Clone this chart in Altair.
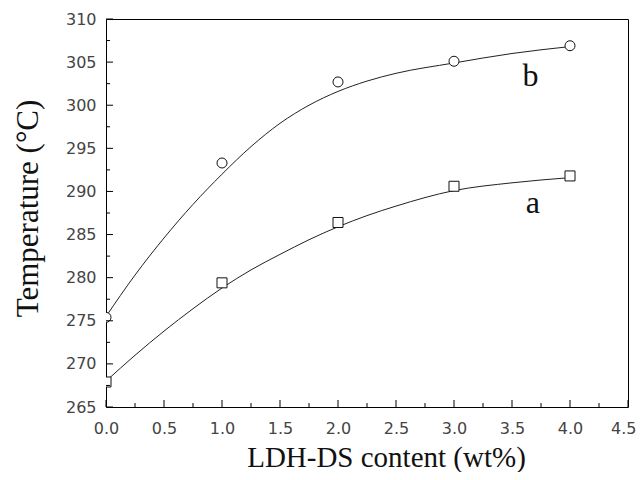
import altair as alt
import pandas as pd

# measured points
content = [0, 1, 2, 3, 4]
temp_a = [267.9, 279.4, 286.4, 290.6, 291.8]
temp_b = [275.4, 293.3, 302.7, 305.1, 306.9]

# fitted curves
curve_x = [0, 0.25, 0.5, 0.75, 1.0, 1.25, 1.5, 1.75, 2.0, 2.25, 2.5, 3.0, 3.5, 4.0]
curve_a = [268.0, 271.0, 273.8, 276.4, 278.8, 280.9, 282.7, 284.4, 285.9, 287.2, 288.3, 290.1, 291.0, 291.6]
curve_b = [275.5, 280.3, 284.6, 288.5, 292.0, 295.2, 297.9, 300.0, 301.6, 302.8, 303.7, 304.9, 306.0, 306.8]

# curve labels
label_text = ["b", "a"]
label_x = [3.66, 3.68]
label_y = [302.2, 287.5]

# axis ticks
x_major = [0, 0.5, 1.0, 1.5, 2.0, 2.5, 3.0, 3.5, 4.0, 4.5]
x_minor = [0.25, 0.75, 1.25, 1.75, 2.25, 2.75, 3.25, 3.75, 4.25]
y_major = [265, 270, 275, 280, 285, 290, 295, 300, 305, 310]
y_minor = [267.5, 272.5, 277.5, 282.5, 287.5, 292.5, 297.5, 302.5, 307.5]

W, H = 522, 388

pts = pd.DataFrame({
    "x": content * 2,
    "y": temp_a + temp_b,
    "s": ["a"] * len(content) + ["b"] * len(content),
})
curves = pd.DataFrame({
    "x": curve_x * 2,
    "y": curve_a + curve_b,
    "s": ["a"] * len(curve_x) + ["b"] * len(curve_x),
})
labels = pd.DataFrame({"t": label_text, "x": label_x, "y": label_y})

xs = alt.Scale(domain=[0, 4.5], nice=False, zero=False)
ys = alt.Scale(domain=[265, 310], nice=False, zero=False)

x_axis = alt.Axis(
    values=x_major, format=".1f", ticks=False, domain=False, grid=False,
    labelFont="DejaVu Sans", labelFontSize=16, labelColor="#444",
    labelPadding=13, labelFlush=False,
    labelAlign={"condition": {"test": "datum.value >= 4.5", "value": "right"}, "value": "center"},
    labelOffset={"condition": {"test": "datum.value >= 4.5", "value": 8}, "value": 0},
    title="LDH-DS content (wt%)", titleFont="Liberation Serif", titleFontSize=29,
    titleFontWeight="normal", titleColor="#111",
    titleX=280, titleY=59, titleBaseline="alphabetic", titleAlign="center",
)
y_axis = alt.Axis(
    values=y_major, format="d", ticks=False, domain=False, grid=False,
    labelFont="DejaVu Sans", labelFontSize=16, labelColor="#444",
    labelPadding=10, labelFlush=False,
    title="Temperature (°C)", titleFont="Liberation Serif", titleFontSize=31,
    titleFontWeight="normal", titleColor="#111",
    titleX=-69, titleY=189, titleAngle=-90, titleBaseline="alphabetic", titleAlign="center",
)

base_x = alt.X("x:Q", scale=xs, axis=x_axis)
base_y = alt.Y("y:Q", scale=ys, axis=y_axis)

lines = alt.Chart(curves).mark_line(
    interpolate="monotone", color="#222", strokeWidth=1, clip=True
).encode(x=base_x, y=base_y, detail="s:N")

squares = alt.Chart(pts).transform_filter(alt.datum.s == "a").mark_point(
    shape="square", size=100, filled=True, fill="white", stroke="#111", strokeWidth=1, opacity=1, clip=True
).encode(x=alt.X("x:Q", scale=xs), y=alt.Y("y:Q", scale=ys))

circles = alt.Chart(pts).transform_filter(alt.datum.s == "b").mark_point(
    shape="circle", size=100, filled=True, fill="white", stroke="#111", strokeWidth=1, opacity=1, clip=True
).encode(x=alt.X("x:Q", scale=xs), y=alt.Y("y:Q", scale=ys))

texts = alt.Chart(labels).mark_text(
    font="Liberation Serif", fontSize=32, color="#111", baseline="alphabetic", align="center"
).encode(x=alt.X("x:Q", scale=xs), y=alt.Y("y:Q", scale=ys), text="t:N")

def xticks(vals, length):
    df = pd.DataFrame({"x": vals})
    return alt.Chart(df).mark_rule(color="black", strokeWidth=1).encode(
        x=alt.X("x:Q", scale=xs), y=alt.value(H), y2=alt.value(H - length)
    )

def yticks(vals, length):
    df = pd.DataFrame({"y": vals})
    return alt.Chart(df).mark_rule(color="black", strokeWidth=1).encode(
        y=alt.Y("y:Q", scale=ys), x=alt.value(0), x2=alt.value(length)
    )

chart = alt.layer(
    lines, squares, circles, texts,
    xticks(x_major, 7), xticks(x_minor, 4), yticks(y_major, 7), yticks(y_minor, 4),
).properties(
    width=W, height=H,
    autosize=alt.AutoSizeParams(type="none"),
    padding={"left": 98, "top": 11, "right": 8, "bottom": 65},
    background="white",
).configure_view(stroke="black", strokeWidth=1)

chart.save("out.html", embed_options={"renderer": "svg", "actions": False})
